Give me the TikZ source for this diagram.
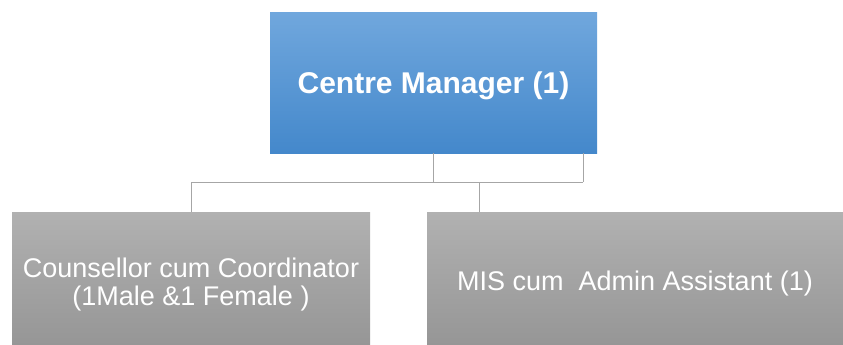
\documentclass[tikz,border=0pt]{standalone}
\usepackage{fontspec}
\setmainfont{Liberation Sans}
\usepackage{tikz}
\usetikzlibrary{positioning}
\usetikzlibrary{calc}

\definecolor{bluetop}{HTML}{70A7DD}
\definecolor{bluebot}{HTML}{4488CB}
\definecolor{greytop}{HTML}{B1B1B1}
\definecolor{greybot}{HTML}{969696}
\definecolor{linkgrey}{HTML}{A6A6A6}

\begin{document}
\begin{tikzpicture}[x=1pt, y=-1pt,
    headbox/.style={top color=bluetop, bottom color=bluebot, text=white,
      minimum width=327pt, minimum height=140pt, inner sep=0pt,
      text height=24pt, text depth=4pt,
      font=\fontsize{30}{34}\selectfont\bfseries},
    staffbox/.style={top color=greytop, bottom color=greybot, text=white,
      minimum height=133pt, inner sep=0pt, align=center,
      font=\fontsize{27}{28}\selectfont},
    link/.style={draw=linkgrey, line width=1pt}]
        \path[use as bounding box] (0, 0) rectangle (843, 345);
      \node[headbox] (manager) at (433.5, 83) {Centre Manager (1)};
      \node[staffbox, minimum width=358pt, text height=59pt, text depth=6pt]
        (counsellor) at (191, 278.5)
        {Counsellor cum Coordinator\\(1Male \&1 Female )};
      \node[staffbox, minimum width=416pt, text height=27pt, text depth=4pt]
        (mis) at (635, 278.5) {MIS cum\ \ Admin Assistant (1)};

      \coordinate (midjoin) at (433, 182);
      \coordinate (rightjoin) at (583, 182);
      \coordinate (misjoin) at (479, 182);
      \draw[link] (manager.south -| midjoin) -- (midjoin);
      \draw[link] (manager.south -| rightjoin) -- (rightjoin);
      \draw[link] (rightjoin) -- (counsellor.north |- rightjoin) -- (counsellor.north);
      \draw[link] (misjoin) -- (mis.north -| misjoin);
    \end{tikzpicture}
\end{document}
